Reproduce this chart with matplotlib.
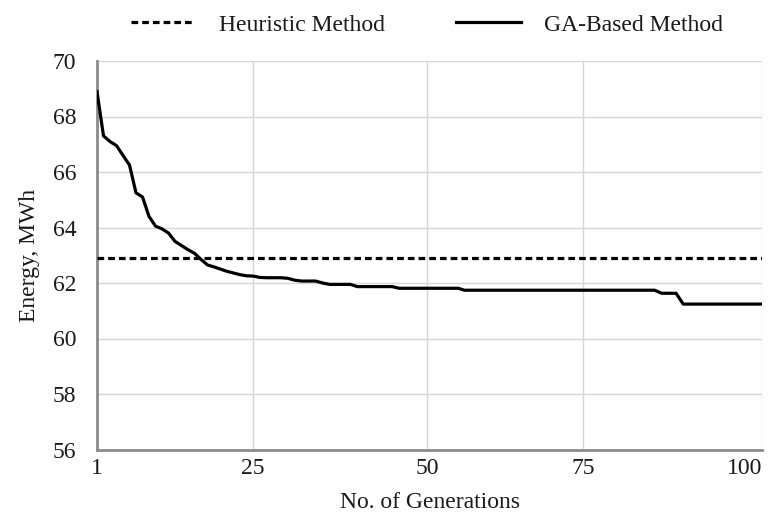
import numpy as np
import matplotlib
matplotlib.use("Agg")
import matplotlib.pyplot as plt
from matplotlib.lines import Line2D

generations = list(range(1, 101))
ga_energy = [
    68.90, 67.30, 67.10, 66.95, 66.60, 66.25, 65.25, 65.10, 64.40, 64.05,
    63.95, 63.80, 63.50, 63.35, 63.20, 63.07, 62.85, 62.65, 62.58, 62.50,
    62.42, 62.36, 62.30, 62.26, 62.25, 62.20, 62.19, 62.19, 62.19, 62.17,
    62.10, 62.07, 62.07, 62.07, 62.00, 61.95, 61.95, 61.95, 61.95, 61.87,
    61.87, 61.87, 61.87, 61.87, 61.87, 61.81, 61.81, 61.81, 61.81, 61.81,
    61.81, 61.81, 61.81, 61.81, 61.81, 61.74, 61.74, 61.74, 61.74, 61.74,
    61.74, 61.74, 61.74, 61.74, 61.74, 61.74, 61.74, 61.74, 61.74, 61.74,
    61.74, 61.74, 61.74, 61.74, 61.74, 61.74, 61.74, 61.74, 61.74, 61.74,
    61.74, 61.74, 61.74, 61.74, 61.74, 61.63, 61.63, 61.63, 61.24, 61.24,
    61.24, 61.24, 61.24, 61.24, 61.24, 61.24, 61.24, 61.24, 61.24, 61.24,
]
heuristic_energy = 62.9

x_ticks = [1, 25, 50, 75, 100]
y_ticks = [56, 58, 60, 62, 64, 66, 68, 70]
series_labels = ["Heuristic Method", "GA-Based Method"]

# uneven category spacing of the original axis
_kd = [-99, 1, 25, 50, 75, 100, 200]
_kp = [-650.0, 0.0, 156.0, 330.0, 486.0, 665.0, 1381.0]

def _fwd(x):
    return np.interp(x, _kd, _kp)

def _inv(p):
    return np.interp(p, _kp, _kd)

plt.rcParams['font.family'] = ['Liberation Serif', 'DejaVu Serif']
text_color = '#1a1a1a'
fs = 17
dash = (0, (2.1, 1.25))

fig = plt.figure(figsize=(7.72, 5.16), dpi=100)
ax_h = (449.5 - 61) / 516
ax = fig.add_axes([97/772, 1 - 449.5/516, 665/772, ax_h])
ax.set_xscale('function', functions=(_fwd, _inv))

ax.plot(generations, ga_energy, color='black', lw=2.3, solid_joinstyle='round', zorder=3)
ax.plot([generations[0], generations[-1]], [heuristic_energy, heuristic_energy],
        color='black', lw=2.3, linestyle=dash, zorder=3)

ax.set_xlim(1, 100)
ax.set_ylim(56, 70)
ax.set_xticks(x_ticks)
ax.set_xticklabels([str(t) for t in x_ticks])
ax.set_yticks(y_ticks)
ax.set_yticklabels([str(t) for t in y_ticks])
ax.get_xticklabels()[-1].set_ha('right')
ax.grid(True, color='#d6d6d6', lw=1.0, zorder=0)
ax.set_axisbelow(True)
for s in ['top', 'right']:
    ax.spines[s].set_visible(False)
for s in ['left', 'bottom']:
    ax.spines[s].set_color('#8c8c8c')
    ax.spines[s].set_linewidth(2.0)
ax.tick_params(length=0, labelsize=fs, colors=text_color)
ax.tick_params(axis='x', pad=6)
ax.tick_params(axis='y', pad=15)

ax.set_xlabel("No. of Generations", fontsize=fs, color=text_color)
ax.set_ylabel("Energy, MWh", fontsize=fs, color=text_color)
ax.xaxis.set_label_coords(0.5, (449.5 - 492) / 388.5)
ax.yaxis.set_label_coords((40 - 97) / 665, 0.5)

handles = [Line2D([], [], color='black', lw=2.3, linestyle=dash),
           Line2D([], [], color='black', lw=2.3)]
fig.legend(handles, series_labels, loc='center', bbox_to_anchor=(427/772, 1 - 25/516),
           ncol=2, frameon=False, fontsize=fs, handlelength=2.75, columnspacing=3.0,
           handletextpad=1.0, labelcolor=text_color)

fig.savefig("out.png", dpi=100)
